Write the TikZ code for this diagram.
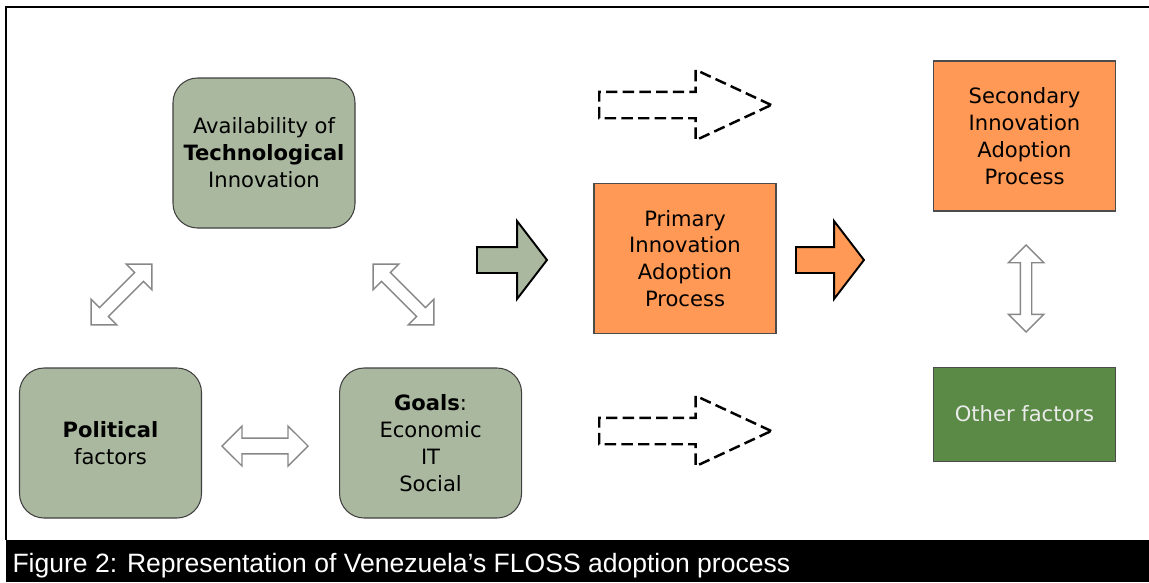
\documentclass[tikz,border=0pt]{standalone}
\usepackage{fontspec}
\setmainfont{DejaVu Sans}
\newfontfamily\capfont{Liberation Sans}
\usetikzlibrary{shapes.arrows,positioning}
\definecolor{boxgreen}{RGB}{170,184,160}
\definecolor{boxorange}{RGB}{255,153,85}
\definecolor{darkgreen}{RGB}{90,138,70}
\definecolor{arrowgray}{RGB}{135,135,135}
\newdimen\px \px=0.02cm

\begin{document}
\begin{tikzpicture}[x=0.02cm, y=-0.02cm, semithick]
\tikzstyle{factor}=[draw=black!75, fill=boxgreen, rounded corners=14pt, minimum width=182\px, minimum height=150\px, align=center, inner sep=0pt, font=\fontsize{12}{15.3}\selectfont]
\tikzstyle{process}=[draw=black!70, fill=boxorange, minimum width=182\px, minimum height=150\px, align=center, inner sep=0pt, font=\fontsize{12}{15.3}\selectfont]
\tikzstyle{link}=[double arrow, draw=arrowgray, fill=white, line width=0.8pt, inner xsep=0pt, inner ysep=5.5\px, double arrow tip angle=90, double arrow head extend=12\px, minimum width=36\px]
\tikzstyle{push}=[single arrow, anchor=tail, draw=black, line width=1.1pt, inner xsep=0pt, inner ysep=12\px, single arrow tip angle=105, single arrow head extend=26\px, minimum width=75\px, minimum height=70\px]
\tikzstyle{maybe}=[single arrow, anchor=tail, draw=black, dashed, dash pattern=on 6.5pt off 3pt, line width=1.4pt, fill=white, inner xsep=0pt, inner ysep=12\px, single arrow tip angle=50, single arrow head extend=22\px, minimum width=68\px, minimum height=172\px]
\useasboundingbox (0,0) rectangle (1149,582);

% frame and caption
\draw[line width=0.85pt] (6,540) -- (6,7) -- (1149,7);
\fill[black] (6,540) rectangle (1149,582);
\node[anchor=base west, text=white, inner sep=0pt, font=\capfont\fontsize{15.1}{18}\selectfont] (cap) at (12,572) {Figure 2: Representation of Venezuela’s FLOSS adoption process};

% factors
\node[factor] (tech) at (264,153) {Availability of\\\textbf{Technological}\\Innovation};
\node[factor] (pol) at (110.5,443) {\textbf{Political}\\factors};
\node[factor] (goals)[right=137\px of pol] {\textbf{Goals}:\\Economic\\IT\\Social};

% processes
\node[process] (prim) at (685,258.5) {Primary\\Innovation\\Adoption\\Process};
\node[process] (sec) at (1024.5,136) {Secondary\\Innovation\\Adoption\\Process};
\node[process, fill=darkgreen, minimum height=94\px, text=white!92!black] (other)[below=155\px of sec] {Other factors};

% links between the factors
\node[link, minimum height=86\px, rotate=45] (techpol) at (121.5,294.5) {};
\node[link, minimum height=86\px, rotate=-45] (techgoals) at (403.5,294.5) {};
\node[link, minimum height=86\px, minimum width=40\px, inner ysep=7\px] (polgoals) at (265,446) {};
\node[link, minimum height=87\px, minimum width=35\px, inner ysep=5\px, rotate=90] (secother) at (1026,288.5) {};

% flows
\node[push, fill=boxgreen] (toprim) at (476,260) {};
\node[push, fill=boxorange, minimum width=72\px, minimum height=68\px] (tosec) at (795,260) {};
\node[maybe] (up) at (598,105) {};
\node[maybe] (down) at (598,431) {};
\end{tikzpicture}
\end{document}
